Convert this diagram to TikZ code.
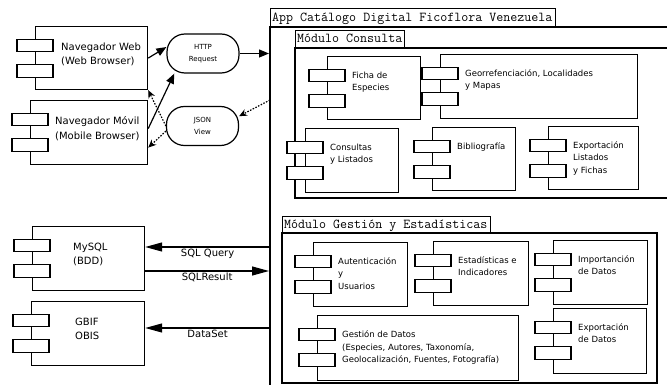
\documentclass[tikz,border=0pt]{standalone}
\usepackage{fontspec}
\setmainfont{DejaVu Sans}
\usetikzlibrary{arrows.meta, positioning}

\tikzset{
  comp/.style={draw, line width=1.2pt, fill=white, anchor=north west, inner sep=0pt},
  pestana/.style={draw, line width=1.2pt, fill=white, minimum width=36pt, minimum height=12.5pt, inner sep=0pt},
  textogrande/.style={anchor=north west, inner sep=0pt, align=left, font=\fontsize{10}{14.5}\selectfont},
  textochico/.style={anchor=north west, inner sep=0pt, align=left, font=\fontsize{8.5}{12.5}\selectfont},
  mensaje/.style={draw, line width=1.2pt, rounded corners=18pt, minimum width=72pt, minimum height=39pt, align=center, inner sep=0pt, font=\fontsize{7}{11.5}\selectfont},
  titulo/.style={draw, line width=1.2pt, anchor=north west, inner sep=0pt},
  textotitulo/.style={anchor=base west, inner sep=0pt, font=\ttfamily\fontsize{13.6}{14}\selectfont},
  marco/.style={line width=1.2pt},
  flecha/.style={line width=1.2pt, -{Triangle[length=10pt, width=8pt]}},
  flechapunteada/.style={line width=1.2pt, dash pattern=on 1.5pt off 1.5pt, -{Stealth[length=8pt, width=7pt]}},
  flechasql/.style={line width=1.2pt, -{Triangle[length=17pt, width=9pt]}},
  etiqueta/.style={below, inner sep=1pt, font=\fontsize{10}{12}\selectfont}
}

\begin{document}
\begin{tikzpicture}[x=1pt, y=-1pt]
\useasboundingbox (0,0) rectangle (667,385);

% Paquete principal
\draw[marco] (270,385) -- (270,27) -- (667,27);
\node[titulo, minimum width=285pt, minimum height=19pt] (apptit) at (270,8) {};
\node[textotitulo] at (272,22) {App Catálogo Digital Ficoflora Venezuela};

% Módulo Consulta
\draw[marco] (667,48) -- (295,48) -- (295,198) -- (667,198);
\node[titulo, minimum width=109pt, minimum height=18pt] (contit) at (295,30) {};
\node[textotitulo] at (297,43) {Módulo Consulta};

% Módulo Gestión y Estadísticas
\draw[marco] (282,233) rectangle (657,383);
\node[titulo, minimum width=208pt, minimum height=17pt] (gestit) at (282,216) {};
\node[textotitulo] at (284,229) {Módulo Gestión y Estadísticas};

% Componentes externos
\foreach \nom/\x/\y/\w/\h/\dx/\t in {
    web/35/26/112/63/26/{Navegador Web\\(Web Browser)},
    movil/30/100/117/64/25/{Navegador Móvil\\(Mobile Browser)},
    mysql/32/226/112/64/41/{MySQL\\(BDD)},
    gbif/31/301/113/64/44/{GBIF\\OBIS}} {
  \node[comp, minimum width=\w*1pt, minimum height=\h*1pt] (\nom) at (\x,\y) {};
  \node[pestana] at ([yshift=-19.5pt]\nom.north west) {};
  \node[pestana] at ([yshift=-45pt]\nom.north west) {};
  \node[textogrande] at ([xshift=\dx*1pt, yshift=-16.5pt]\nom.north west) {\t};
}

% Componentes de la aplicación
\foreach \nom/\x/\y/\w/\h/\t in {
    fic/327/56/93/63/{Ficha de\\Especies},
    geo/440/54/197/64/{Georrefenciación, Localidades\\y Mapas},
    con/305/128/93/64/{Consultas\\y Listados},
    bib/432/127/83/63/{Bibliografía},
    exl/548/126/90/63/{Exportación\\Listados\\y Fichas},
    aut/313/242/94/64/{Autenticación\\y\\Usuarios},
    est/433/241/95/64/{Estadísticas e\\Indicadores},
    imp/553/240/94/64/{Importanción\\de Datos},
    ges/317/315/201/65/{Gestión de Datos\\(Especies, Autores, Taxonomía,\\Geolocalización, Fuentes, Fotografía)},
    exd/553/308/93/65/{Exportación\\de Datos}} {
  \node[comp, minimum width=\w*1pt, minimum height=\h*1pt] (\nom) at (\x,\y) {};
  \node[pestana] at ([yshift=-19.5pt]\nom.north west) {};
  \node[pestana] at ([yshift=-45pt]\nom.north west) {};
  \node[textochico] at ([xshift=25pt, yshift=-15.5pt]\nom.north west) {\t};
}

% Mensajes
\node[mensaje] (http) at (203,53.5) {HTTP\\Request};
\node[mensaje] (json) at (202.5,126) {JSON\\View};

\coordinate (entradaapp) at (269,53.5);
\coordinate (salidaapp) at (270,100);
\draw[flecha] (web.east) -- (http.170);
\draw[flecha] ([yshift=4pt]movil.east) -- (http.215);
\draw[flecha] (http) -- (entradaapp);
\draw[flechapunteada] (salidaapp) -- (json.15);
\draw[flechapunteada] (json.west) -- (web.south east);
\draw[flechapunteada] (json.188) -- ([yshift=-15pt]movil.east);

% Datos
\coordinate (sqlq) at (270,247);
\coordinate (sqlr) at (269,271);
\coordinate (dset) at (270,328);
\draw[flechasql] (sqlq) -- (sqlq -| mysql.east) node[etiqueta, midway] {SQL Query};
\draw[flechasql] (sqlr -| mysql.east) -- (sqlr) node[etiqueta, midway] {SQLResult};
\draw[flechasql] (dset) -- (dset -| gbif.east) node[etiqueta, midway] {DataSet};
\end{tikzpicture}
\end{document}
